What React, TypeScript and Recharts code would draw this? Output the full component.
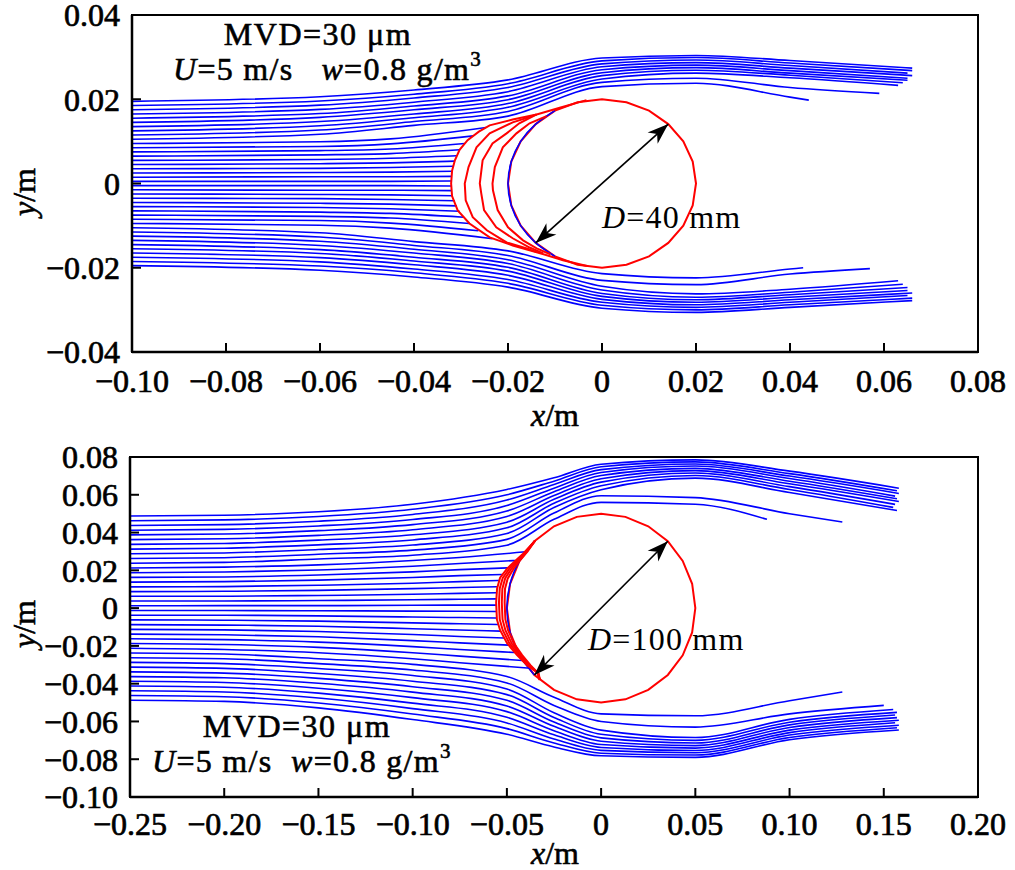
import React from 'react';
import { LineChart, Line, XAxis, YAxis, ReferenceArea, ReferenceLine } from 'recharts';

type Pt = [number, number];
type XY = { x: number; y: number };

const FONT = '"Liberation Serif", "Times New Roman", serif';
const BLUE = '#0000ff';
const RED = '#ff0000';
const NB = '\u00a0';

// ---------- upper panel: D = 40 mm ----------
const topXTicks = [-0.1, -0.08, -0.06, -0.04, -0.02, 0, 0.02, 0.04, 0.06, 0.08];
const topYTicks = [-0.04, -0.02, 0, 0.02, 0.04];

// droplets passing over / under the cylinder, y (m) at these x stations
const topPassStations = [-0.1, -0.06, -0.04, -0.02, 0, 0.02, 0.04];
const topAboveRows = [
  [0.0195, 0.0206, 0.0222, 0.0246, 0.0298, 0.0304, 0.0292],
  [0.0185, 0.0196, 0.0212, 0.0237, 0.0291, 0.0299, 0.0286],
  [0.0175, 0.0186, 0.0203, 0.0228, 0.0284, 0.0293, 0.028],
  [0.0165, 0.0176, 0.0193, 0.0218, 0.0277, 0.0287, 0.0274],
  [0.0155, 0.0166, 0.0184, 0.0208, 0.027, 0.0281, 0.0268],
  [0.0145, 0.0157, 0.0175, 0.0199, 0.0263, 0.0275, 0.0262],
  [0.0135, 0.0147, 0.0165, 0.019, 0.0256, 0.0269, 0.0257],
  [0.0125, 0.0137, 0.0156, 0.0181, 0.0248, 0.0262, 0.0251],
  [0.0115, 0.0127, 0.0147, 0.0171, 0.024, 0.025, 0.0228],
  [0.0105, 0.0117, 0.0138, 0.016, 0.023, 0.0238, 0.0205],
];
const topAboveEnds: Pt[] = [
  [0.066, 0.0274], [0.066, 0.0268], [0.065, 0.0262], [0.066, 0.0256], [0.065, 0.025],
  [0.065, 0.0245], [0.064, 0.0239], [0.063, 0.0233], [0.059, 0.0214], [0.044, 0.0198],
];
const topBelowRows = [
  [-0.0195, -0.0206, -0.0222, -0.0246, -0.0296, -0.0306, -0.0294],
  [-0.0185, -0.0196, -0.0212, -0.0237, -0.0289, -0.03, -0.0288],
  [-0.0175, -0.0186, -0.0203, -0.0228, -0.0282, -0.0294, -0.0282],
  [-0.0165, -0.0176, -0.0193, -0.0218, -0.0275, -0.0288, -0.0276],
  [-0.0155, -0.0166, -0.0184, -0.0208, -0.0268, -0.0282, -0.027],
  [-0.0145, -0.0157, -0.0175, -0.0199, -0.0261, -0.0276, -0.0264],
  [-0.0135, -0.0147, -0.0165, -0.019, -0.0253, -0.027, -0.0258],
  [-0.0125, -0.0137, -0.0156, -0.0181, -0.0244, -0.0262, -0.0251],
  [-0.0115, -0.0127, -0.0147, -0.0171, -0.023, -0.024, -0.0215],
  [-0.0105, -0.0117, -0.0138, -0.016, -0.0214, -0.0224, -0.0203],
];
const topBelowEnds: Pt[] = [
  [0.066, -0.0278], [0.066, -0.0272], [0.065, -0.0266], [0.066, -0.026], [0.065, -0.0254],
  [0.065, -0.0247], [0.064, -0.0239], [0.063, -0.0231], [0.057, -0.0202], [0.0428, -0.02],
];

// droplets hitting the ice
const topHitStations = [-0.1, -0.06, -0.045];
const topHitRows = [
  [0.0095, 0.0099, 0.0106], [0.0085, 0.0088, 0.0094], [0.0075, 0.0078, 0.0082],
  [0.0065, 0.0068, 0.0071], [0.0055, 0.0057, 0.006], [0.0045, 0.0047, 0.0049],
  [0.0035, 0.0036, 0.0038], [0.0025, 0.0026, 0.0027], [0.0015, 0.0016, 0.0016],
  [0.0005, 0.0005, 0.0005], [-0.0005, -0.0005, -0.0005], [-0.0015, -0.0016, -0.0016],
  [-0.0025, -0.0026, -0.0027], [-0.0035, -0.0036, -0.0038], [-0.0045, -0.0047, -0.0049],
  [-0.0055, -0.0057, -0.006], [-0.0065, -0.0068, -0.0071], [-0.0075, -0.0078, -0.0082],
  [-0.0085, -0.0088, -0.0094], [-0.0095, -0.0099, -0.0106],
];
const topHitEnds: Pt[] = [
  [-0.0247, 0.0133], [-0.0274, 0.0113], [-0.0292, 0.0095], [-0.0303, 0.008], [-0.0309, 0.0066],
  [-0.0313, 0.0053], [-0.0316, 0.0041], [-0.0318, 0.0029], [-0.032, 0.0017], [-0.0321, 0.0006],
  [-0.0321, -0.0006], [-0.032, -0.0017], [-0.0317, -0.0029], [-0.0313, -0.0041], [-0.0309, -0.0053],
  [-0.0303, -0.0066], [-0.0294, -0.008], [-0.0282, -0.0095], [-0.0263, -0.0112], [-0.0233, -0.0131],
];

const topCylinder: Pt[] = [
  [0.02, 0], [0.0193, 0.0052], [0.0173, 0.01], [0.0141, 0.0141], [0.01, 0.0173], [0.0052, 0.0193],
  [0, 0.02], [-0.0052, 0.0193], [-0.01, 0.0173], [-0.0141, 0.0141], [-0.0173, 0.01], [-0.0193, 0.0052],
  [-0.02, 0], [-0.0193, -0.0052], [-0.0173, -0.01], [-0.0141, -0.0141], [-0.01, -0.0173], [-0.0052, -0.0193],
  [0, -0.02], [0.0052, -0.0193], [0.01, -0.0173], [0.0141, -0.0141], [0.0173, -0.01], [0.0193, -0.0052],
];
const topFront: Pt[] = [
  [-0.01, 0.0173], [-0.0141, 0.0141], [-0.0173, 0.01], [-0.0193, 0.0052], [-0.02, 0],
  [-0.0193, -0.0052], [-0.0173, -0.01], [-0.0141, -0.0141], [-0.01, -0.0173],
];
const topIce: Pt[][] = [
  [[-0.0033, 0.0198], [-0.009, 0.018], [-0.0139, 0.0164], [-0.019, 0.0152], [-0.0239, 0.0138], [-0.0262, 0.0123],
    [-0.0286, 0.0103], [-0.0303, 0.008], [-0.0313, 0.0055], [-0.0319, 0.003], [-0.0321, 0], [-0.0319, -0.003],
    [-0.0307, -0.0064], [-0.0282, -0.0095], [-0.0239, -0.0128], [-0.019, -0.0147], [-0.0139, -0.0163],
    [-0.0083, -0.0182], [-0.0032, -0.0196]],
  [[-0.0139, 0.0164], [-0.0154, 0.0158], [-0.019, 0.0145], [-0.0239, 0.0119], [-0.0267, 0.0086], [-0.0284, 0.0039],
    [-0.0292, 0], [-0.029, -0.004], [-0.0275, -0.008], [-0.0245, -0.0111], [-0.0203, -0.014], [-0.016, -0.0154],
    [-0.0139, -0.0163]],
  [[-0.0139, 0.0164], [-0.0176, 0.0143], [-0.0203, 0.0119], [-0.0233, 0.0095], [-0.0254, 0.0055], [-0.026, 0],
    [-0.0257, -0.0023], [-0.0251, -0.0063], [-0.0225, -0.0104], [-0.019, -0.013], [-0.0154, -0.0152], [-0.0125, -0.0166]],
  [[-0.0118, 0.016], [-0.0154, 0.0143], [-0.0182, 0.0119], [-0.0211, 0.0086], [-0.0228, 0.0039], [-0.0233, 0],
    [-0.0232, -0.0016], [-0.0222, -0.0063], [-0.02, -0.0104], [-0.0168, -0.0135], [-0.0139, -0.0154], [-0.011, -0.0168]],
];
const topArrow: Pt[] = [[-0.0141, -0.0141], [0.0141, 0.0141]];

// ---------- lower panel: D = 100 mm ----------
const botXTicks = [-0.25, -0.2, -0.15, -0.1, -0.05, 0, 0.05, 0.1, 0.15, 0.2];
const botYTicks = [-0.1, -0.08, -0.06, -0.04, -0.02, 0, 0.02, 0.04, 0.06, 0.08];

const botPassStations = [-0.25, -0.2, -0.15, -0.1, -0.05, -0.025, 0, 0.05, 0.1];
const botAboveRows: (number | null)[][] = [
  [0.04875, 0.0492, 0.051, 0.055, 0.0628, 0.069, 0.0762, 0.0785, 0.0725],
  [0.04625, 0.0467, 0.0485, 0.0523, 0.06, 0.0672, 0.0748, 0.0774, 0.0712],
  [0.04375, 0.0442, 0.046, 0.0496, 0.0572, 0.0654, 0.0733, 0.0763, 0.0699],
  [0.04125, 0.0417, 0.0435, 0.0469, 0.0543, 0.0635, 0.0718, 0.0752, 0.0686],
  [0.03875, 0.0392, 0.041, 0.0442, 0.0514, 0.0616, 0.0702, 0.074, 0.0672],
  [0.03625, 0.0367, 0.0385, 0.0415, 0.0485, 0.0596, 0.0685, 0.0728, 0.0658],
  [0.03375, 0.0342, 0.036, 0.0388, 0.0455, 0.0576, 0.0667, 0.0715, 0.0643],
  [0.03125, 0.0317, 0.0335, 0.0361, 0.0425, 0.0555, 0.0648, 0.0702, 0.0628],
  [0.02875, 0.0292, 0.031, 0.0334, 0.0395, 0.0533, 0.0627, 0.0688, 0.0612],
  [0.02625, 0.0267, 0.0285, 0.0307, 0.0364, 0.0503, 0.0595, 0.0585, 0.05],
  [0.02375, 0.0242, 0.026, 0.028, 0.0333, 0.047, 0.056, 0.055, null],
];
const botAboveEnds: Pt[] = [
  [0.158, 0.0635], [0.157, 0.0621], [0.158, 0.0607], [0.156, 0.0593], [0.157, 0.0579], [0.158, 0.0564],
  [0.156, 0.0549], [0.155, 0.0533], [0.157, 0.0517], [0.128, 0.0456], [0.088, 0.047],
];
const botBelowRows: (number | null)[][] = [
  [-0.04875, -0.0494, -0.0528, -0.059, -0.0668, -0.0735, -0.0782, -0.079, -0.0697],
  [-0.04625, -0.0469, -0.0502, -0.0561, -0.0638, -0.0714, -0.0768, -0.0778, -0.0685],
  [-0.04375, -0.0444, -0.0476, -0.0532, -0.0608, -0.0693, -0.0753, -0.0766, -0.0672],
  [-0.04125, -0.0419, -0.045, -0.0503, -0.0578, -0.0671, -0.0738, -0.0754, -0.0659],
  [-0.03875, -0.0394, -0.0424, -0.0474, -0.0548, -0.0649, -0.0722, -0.0741, -0.0646],
  [-0.03625, -0.0369, -0.0398, -0.0445, -0.0518, -0.0626, -0.0705, -0.0728, -0.0632],
  [-0.03375, -0.0344, -0.0372, -0.0416, -0.0488, -0.0603, -0.0687, -0.0714, -0.0618],
  [-0.03125, -0.0319, -0.0346, -0.0387, -0.0458, -0.0579, -0.0668, -0.07, -0.0604],
  [-0.02875, -0.0294, -0.032, -0.0357, -0.0428, -0.0554, -0.0646, -0.0685, -0.0589],
  [-0.02625, -0.0268, -0.0294, -0.0328, -0.0396, -0.0515, -0.06, -0.063, -0.056],
  [-0.02375, -0.0243, -0.0268, -0.0298, -0.0362, -0.0472, -0.056, -0.057, -0.049],
];
const botBelowEnds: Pt[] = [
  [0.158, -0.0645], [0.157, -0.0633], [0.158, -0.062], [0.156, -0.0607], [0.158, -0.0594], [0.157, -0.058],
  [0.156, -0.0566], [0.157, -0.0552], [0.155, -0.0537], [0.15, -0.0515], [0.128, -0.0444],
];

const botHitStations = [-0.25, -0.2, -0.15, -0.1, -0.075];
const botHitRows = [
  [0.02125, 0.0217, 0.0229, 0.0252, 0.0268],
  [0.01875, 0.0191, 0.0202, 0.0222, 0.0236],
  [0.01625, 0.0165, 0.0175, 0.0192, 0.0204],
  [0.01375, 0.014, 0.0148, 0.0162, 0.0172],
  [0.01125, 0.0114, 0.0121, 0.0132, 0.014],
  [0.00875, 0.0089, 0.0094, 0.0103, 0.0109],
  [0.00625, 0.0063, 0.0067, 0.0073, 0.0078],
  [0.00375, 0.0038, 0.004, 0.0044, 0.0047],
  [0.00125, 0.0013, 0.0013, 0.0015, 0.0016],
  [-0.00125, -0.0013, -0.0014, -0.0016, -0.0017],
  [-0.00375, -0.0038, -0.0041, -0.0047, -0.005],
  [-0.00625, -0.0064, -0.0069, -0.0078, -0.0083],
  [-0.00875, -0.009, -0.0096, -0.0109, -0.0116],
  [-0.01125, -0.0115, -0.0124, -0.014, -0.015],
  [-0.01375, -0.0141, -0.0152, -0.0172, -0.0184],
  [-0.01625, -0.0167, -0.018, -0.0204, -0.0219],
  [-0.01875, -0.0193, -0.0208, -0.0236, -0.0254],
  [-0.02125, -0.0219, -0.0236, -0.0268, -0.0289],
];
const botHitEnds: Pt[] = [
  [-0.04, 0.0298], [-0.0454, 0.0252], [-0.0495, 0.0213], [-0.0523, 0.0178], [-0.054, 0.0146], [-0.055, 0.0113],
  [-0.0555, 0.0081], [-0.0557, 0.0049], [-0.0557, 0.0016], [-0.0557, -0.0018], [-0.0554, -0.0052],
  [-0.0545, -0.0087], [-0.0534, -0.0122], [-0.0515, -0.0158], [-0.0491, -0.0196], [-0.046, -0.0235],
  [-0.0418, -0.0277], [-0.0375, -0.0318],
];

const botCylinder: Pt[] = [
  [0.05, 0], [0.0483, 0.0129], [0.0433, 0.025], [0.0354, 0.0354], [0.025, 0.0433], [0.0129, 0.0483],
  [0, 0.05], [-0.0129, 0.0483], [-0.025, 0.0433], [-0.0354, 0.0354], [-0.0433, 0.025], [-0.0483, 0.0129],
  [-0.05, 0], [-0.0483, -0.0129], [-0.0433, -0.025], [-0.0354, -0.0354], [-0.025, -0.0433], [-0.0129, -0.0483],
  [0, -0.05], [0.0129, -0.0483], [0.025, -0.0433], [0.0354, -0.0354], [0.0433, -0.025], [0.0483, -0.0129],
];
const botFront: Pt[] = [
  [-0.0354, 0.0354], [-0.0433, 0.025], [-0.0483, 0.0129], [-0.05, 0],
  [-0.0483, -0.0129], [-0.0433, -0.025], [-0.0354, -0.0354],
];
const botIce: Pt[][] = [
  [[-0.035, 0.0357], [-0.0414, 0.0288], [-0.0456, 0.025], [-0.0499, 0.0209], [-0.0536, 0.0161], [-0.0552, 0.0104],
    [-0.0557, 0.003], [-0.0553, -0.006], [-0.0536, -0.0117], [-0.0499, -0.0186], [-0.0446, -0.0249],
    [-0.0393, -0.0302], [-0.034, -0.0339], [-0.0325, -0.038]],
  [[-0.035, 0.0357], [-0.0405, 0.0292], [-0.0446, 0.0252], [-0.0488, 0.0208], [-0.0522, 0.016], [-0.0538, 0.0104],
    [-0.0542, 0.003], [-0.0538, -0.006], [-0.0522, -0.0117], [-0.0487, -0.0186], [-0.0437, -0.0249],
    [-0.0387, -0.0302], [-0.0337, -0.0342], [-0.0325, -0.038]],
  [[-0.035, 0.0357], [-0.0397, 0.0296], [-0.0437, 0.0254], [-0.0477, 0.0207], [-0.0509, 0.0158], [-0.0524, 0.0103],
    [-0.0527, 0.003], [-0.0523, -0.006], [-0.0508, -0.0117], [-0.0475, -0.0186], [-0.0428, -0.0249],
    [-0.0381, -0.0302], [-0.0334, -0.0345], [-0.0325, -0.038]],
  [[-0.035, 0.0357], [-0.039, 0.03], [-0.0428, 0.0256], [-0.0466, 0.0206], [-0.0496, 0.0156], [-0.051, 0.0102],
    [-0.0512, 0.003], [-0.0508, -0.006], [-0.0494, -0.0117], [-0.0463, -0.0186], [-0.0419, -0.0249],
    [-0.0375, -0.0302], [-0.0331, -0.0348], [-0.0325, -0.038]],
];
const botArrow: Pt[] = [[-0.0354, -0.0354], [0.0354, 0.0354]];

// ---------- helpers ----------
const rowsToPaths = (stations: number[], rows: (number | null)[][], ends: Pt[]): XY[][] =>
  rows.map((row, i) => {
    const pts: XY[] = [];
    row.forEach((y, j) => {
      if (y !== null) pts.push({ x: stations[j], y });
    });
    pts.push({ x: ends[i][0], y: ends[i][1] });
    return pts;
  });

const toXY = (pairs: Pt[]): XY[] => pairs.map(([x, y]) => ({ x, y }));

const fmtTick = (v: number) => (v === 0 ? '0' : `${v < 0 ? '\u2212' : ''}${Math.abs(v).toFixed(2)}`);

const DiameterArrow = (props: any) => {
  const { x1, y1, x2, y2 } = props;
  const head = (tx: number, ty: number, fx: number, fy: number) => {
    const len = Math.hypot(tx - fx, ty - fy);
    const ux = (tx - fx) / len;
    const uy = (ty - fy) / len;
    const L = 21;
    const W = 7.5;
    const bx = tx - ux * L;
    const by = ty - uy * L;
    const nx = tx - ux * 15;
    const ny = ty - uy * 15;
    return `${tx},${ty} ${bx - uy * W},${by + ux * W} ${nx},${ny} ${bx + uy * W},${by - ux * W}`;
  };
  return (
    <g>
      <line x1={x1} y1={y1} x2={x2} y2={y2} stroke="#000" strokeWidth={1.7} />
      <polygon points={head(x2, y2, x1, y1)} fill="#000" />
      <polygon points={head(x1, y1, x2, y2)} fill="#000" />
    </g>
  );
};

interface PanelProps {
  height: number;
  margin: { top: number; right: number; bottom: number; left: number };
  xDomain: [number, number];
  yDomain: [number, number];
  xTicks: number[];
  yTicks: number[];
  xAxisHeight: number;
  xTickMargin: number;
  flows: XY[][];
  cylinder: XY[];
  front: XY[];
  ice: XY[][];
  arrow: Pt[];
}

// slightly heavier than plain regular, like the printed figure
const tickStyle = { fontSize: 32, fill: '#000', fontFamily: FONT, stroke: '#000', strokeWidth: 0.7 };

const Panel: React.FC<PanelProps> = ({
  height, margin, xDomain, yDomain, xTicks, yTicks, xAxisHeight, xTickMargin, flows, cylinder, front, ice, arrow,
}) => (
  <LineChart width={1015} height={height} margin={margin}>
    <XAxis
      type="number"
      dataKey="x"
      domain={xDomain}
      ticks={xTicks}
      interval={0}
      allowDataOverflow
      height={xAxisHeight}
      tickFormatter={fmtTick}
      tick={tickStyle}
      tickSize={-9}
      tickMargin={xTickMargin}
      axisLine={{ stroke: '#000', strokeWidth: 2.5 }}
      tickLine={{ stroke: '#000', strokeWidth: 2 }}
    />
    <YAxis
      type="number"
      dataKey="y"
      domain={yDomain}
      ticks={yTicks}
      interval={0}
      allowDataOverflow
      width={130}
      tickFormatter={fmtTick}
      tick={tickStyle}
      tickSize={-9}
      tickMargin={21}
      axisLine={{ stroke: '#000', strokeWidth: 2.5 }}
      tickLine={{ stroke: '#000', strokeWidth: 2 }}
    />
    <ReferenceArea
      x1={xDomain[0]}
      x2={xDomain[1]}
      y1={yDomain[0]}
      y2={yDomain[1]}
      fill="none"
      fillOpacity={0}
      stroke="#000"
      strokeWidth={2}
    />
    {flows.map((p, i) => (
      <Line
        key={`f${i}`}
        data={p}
        dataKey="y"
        type="monotone"
        stroke={BLUE}
        strokeWidth={1.6}
        dot={false}
        activeDot={false}
        isAnimationActive={false}
      />
    ))}
    <Line
      data={cylinder}
      dataKey="y"
      type="linearClosed"
      stroke={RED}
      strokeWidth={2}
      dot={false}
      activeDot={false}
      isAnimationActive={false}
    />
    <Line
      data={front}
      dataKey="y"
      type="natural"
      stroke={BLUE}
      strokeWidth={1.6}
      dot={false}
      activeDot={false}
      isAnimationActive={false}
    />
    {ice.map((p, i) => (
      <Line
        key={`ice${i}`}
        data={p}
        dataKey="y"
        type="linear"
        stroke={RED}
        strokeWidth={2}
        dot={false}
        activeDot={false}
        isAnimationActive={false}
      />
    ))}
    <ReferenceLine
      segment={[{ x: arrow[0][0], y: arrow[0][1] }, { x: arrow[1][0], y: arrow[1][1] }]}
      shape={DiameterArrow}
      ifOverflow="visible"
    />
  </LineChart>
);

const topFlows = [
  ...rowsToPaths(topPassStations, topAboveRows, topAboveEnds),
  ...rowsToPaths(topHitStations, topHitRows, topHitEnds),
  ...rowsToPaths(topPassStations, topBelowRows, topBelowEnds),
];
const botFlows = [
  ...rowsToPaths(botPassStations, botAboveRows, botAboveEnds),
  ...rowsToPaths(botHitStations, botHitRows, botHitEnds),
  ...rowsToPaths(botPassStations, botBelowRows, botBelowEnds),
];

const heavy = { stroke: '#000', strokeWidth: 0.6 };

const App: React.FC = () => (
  <div style={{ position: 'absolute', left: 0, top: 0, width: 1015, height: 870, background: '#fff' }}>
    <Panel
      height={435}
      margin={{ top: 15, right: 37, bottom: 23, left: 2 }}
      xDomain={[-0.1, 0.08]}
      yDomain={[-0.04, 0.04]}
      xTicks={topXTicks}
      yTicks={topYTicks}
      xAxisHeight={60}
      xTickMargin={26}
      flows={topFlows}
      cylinder={toXY(topCylinder)}
      front={toXY(topFront)}
      ice={topIce.map(toXY)}
      arrow={topArrow}
    />
    <Panel
      height={435}
      margin={{ top: 22, right: 37, bottom: 23, left: 0 }}
      xDomain={[-0.25, 0.2]}
      yDomain={[-0.1, 0.08]}
      xTicks={botXTicks}
      yTicks={botYTicks}
      xAxisHeight={50}
      xTickMargin={24}
      flows={botFlows}
      cylinder={toXY(botCylinder)}
      front={toXY(botFront)}
      ice={botIce.map(toXY)}
      arrow={botArrow}
    />
    <svg
      width={1015}
      height={870}
      style={{ position: 'absolute', left: 0, top: 0, pointerEvents: 'none' }}
      fontFamily={FONT}
      fill="#000"
    >
      <text x={318} y={45} fontSize={32} textAnchor="middle" letterSpacing={1.5} {...heavy}>
        {`MVD=30${NB}\u03bcm`}
      </text>
      <text x={173} y={80} fontSize={32} letterSpacing={1.3} {...heavy}>
        <tspan fontStyle="italic">U</tspan>
        {`=5${NB}m/s${NB}${NB}${NB}`}
        <tspan fontStyle="italic">w</tspan>
        {`=0.8${NB}g/m`}
        <tspan fontSize={21} dy={-14}>3</tspan>
      </text>
      <text x={602} y={228} fontSize={32} letterSpacing={1.2}>
        <tspan fontStyle="italic">D</tspan>
        {`=40${NB}mm`}
      </text>
      <text transform="translate(35,192) rotate(-90)" fontSize={32} textAnchor="middle" {...heavy}>
        <tspan fontStyle="italic">y</tspan>/m
      </text>
      <text x={555} y={426} fontSize={32} textAnchor="middle" {...heavy}>
        <tspan fontStyle="italic">x</tspan>/m
      </text>

      <text x={588} y={650} fontSize={32} letterSpacing={1.2}>
        <tspan fontStyle="italic">D</tspan>
        {`=100${NB}mm`}
      </text>
      <text x={297} y={737} fontSize={32} textAnchor="middle" letterSpacing={1.5} {...heavy}>
        {`MVD=30${NB}\u03bcm`}
      </text>
      <text x={152} y={772} fontSize={32} letterSpacing={1.3} {...heavy}>
        <tspan fontStyle="italic">U</tspan>
        {`=5${NB}m/s${NB}${NB}`}
        <tspan fontStyle="italic">w</tspan>
        {`=0.8${NB}g/m`}
        <tspan fontSize={21} dy={-14}>3</tspan>
      </text>
      <text transform="translate(35,624) rotate(-90)" fontSize={32} textAnchor="middle" {...heavy}>
        <tspan fontStyle="italic">y</tspan>/m
      </text>
      <text x={555} y={864} fontSize={32} textAnchor="middle" {...heavy}>
        <tspan fontStyle="italic">x</tspan>/m
      </text>
    </svg>
  </div>
);

export default App;
